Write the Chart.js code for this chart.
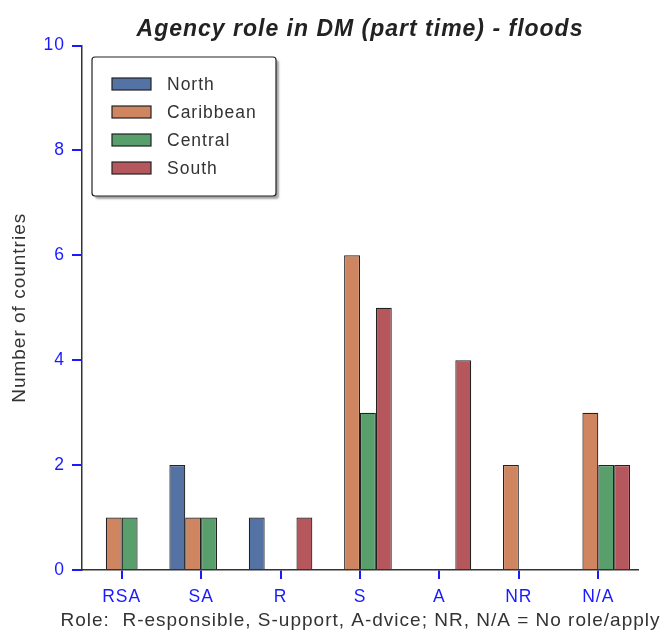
<!DOCTYPE html>
<html>
<head>
<meta charset="utf-8">
<script src="https://cdn.jsdelivr.net/npm/chart.js@4"></script>
<style>
  html, body { margin: 0; padding: 0; background: #fff; }
  #wrap { width: 664px; height: 634px; }
</style>
</head>
<body>
<div id="wrap"><canvas id="chart" width="664" height="634"></canvas></div>
<script>
// data
const roles = ["RSA", "SA", "R", "S", "A", "NR", "N/A"];
const north = [0, 2, 1, 0, 0, 0, 0];
const caribbean = [1, 1, 0, 6, 0, 2, 3];
const central = [1, 1, 0, 3, 0, 0, 2];
const south = [0, 0, 1, 5, 4, 0, 2];
const yTicks = [0, 2, 4, 6, 8, 10];
const xLabel = "Role:  R-esponsible, S-upport, A-dvice; NR, N/A = No role/apply";

const fontFam = "'Liberation Sans', Arial, sans-serif";
const spacing = "1px";

// the reference text is set a little looser than Liberation Sans
const looseText = {
    id: "looseText",
    beforeUpdate(chart) { chart.ctx.letterSpacing = spacing; },
    beforeLayout(chart) { chart.ctx.letterSpacing = spacing; },
    beforeDraw(chart) { chart.ctx.letterSpacing = spacing; }
};

// x axis title: wider than the plot, so drawn here (Chart.js would squeeze it)
const wideXTitle = {
    id: "wideXTitle",
    afterDraw(chart) {
        const ctx = chart.ctx;
        const area = chart.chartArea;
        ctx.save();
        ctx.letterSpacing = spacing;
        ctx.font = "19px " + fontFam;
        ctx.fillStyle = "#333";
        ctx.textAlign = "center";
        ctx.textBaseline = "alphabetic";
        ctx.fillText(xLabel, (area.left + area.right) / 2 + 0.5, 626);
        ctx.restore();
    }
};

// legend box drawn inside the plot, top-left
const boxLegend = {
    id: "boxLegend",
    afterDraw(chart) {
        const ctx = chart.ctx;
        const x = 92, y = 57, w = 184, h = 139;
        ctx.save();
        ctx.letterSpacing = spacing;
        ctx.shadowColor = "rgba(0,0,0,0.35)";
        ctx.shadowOffsetX = 3;
        ctx.shadowOffsetY = 3;
        ctx.shadowBlur = 2;
        ctx.fillStyle = "#fff";
        ctx.beginPath();
        ctx.roundRect(x, y, w, h, 3);
        ctx.fill();
        ctx.shadowColor = "transparent";
        ctx.strokeStyle = "#222";
        ctx.lineWidth = 1.2;
        ctx.stroke();
        ctx.font = "17.5px " + fontFam;
        ctx.textBaseline = "middle";
        chart.data.datasets.forEach((ds, i) => {
            const cy = 84 + i * 28;
            ctx.fillStyle = ds.backgroundColor;
            ctx.fillRect(112, cy - 6, 39, 12);
            ctx.strokeStyle = "#222";
            ctx.lineWidth = 1.2;
            ctx.strokeRect(112, cy - 6, 39, 12);
            ctx.fillStyle = "#333";
            ctx.fillText(ds.label, 167, cy + 1);
        });
        ctx.restore();
    }
};

function makeSet(label, data, color) {
    return {
        label: label,
        data: data,
        backgroundColor: color,
        borderColor: "#222",
        borderWidth: 1.2,
        categoryPercentage: 0.8,
        barPercentage: 1.0
    };
}

new Chart(document.getElementById("chart"), {
    type: "bar",
    data: {
        labels: roles,
        datasets: [
            makeSet("North", north, "#5472a3"),
            makeSet("Caribbean", caribbean, "#cf8660"),
            makeSet("Central", central, "#589f6c"),
            makeSet("South", south, "#b6575e")
        ]
    },
    plugins: [looseText, boxLegend, wideXTitle],
    options: {
        responsive: false,
        animation: false,
        layout: { padding: { left: 0, right: 26, top: 0, bottom: 0 } },
        plugins: {
            legend: { display: false },
            tooltip: { enabled: false },
            title: {
                display: true,
                fullSize: false,
                text: "Agency role in DM (part time) - floods",
                color: "#222",
                font: { family: fontFam, size: 23, weight: "bold", style: "italic" },
                padding: { top: 16, bottom: 2 }
            }
        },
        scales: {
            x: {
                offset: true,
                grid: { display: true, drawOnChartArea: false, offset: false, color: "#1a1aff", lineWidth: 2, tickLength: 9 },
                border: { color: "#333", width: 1.5 },
                ticks: { color: "#1a1aff", font: { family: fontFam, size: 17.5 }, padding: 8 },
                title: { display: false },
                afterFit(scale) { scale.height = 64; }
            },
            y: {
                min: 0,
                max: 10,
                afterBuildTicks(scale) { scale.ticks = yTicks.map(v => ({ value: v })); },
                grid: { display: true, drawOnChartArea: false, color: "#1a1aff", lineWidth: 2, tickLength: 10 },
                border: { color: "#333", width: 1.5 },
                ticks: { color: "#1a1aff", font: { family: fontFam, size: 17.5 }, padding: 7 },
                title: {
                    display: true,
                    text: "Number of countries",
                    color: "#333",
                    font: { family: fontFam, size: 19 },
                    padding: { top: 8, bottom: 0 }
                },
                afterFit(scale) { scale.width = 82; }
            }
        }
    }
});
</script>
</body>
</html>
